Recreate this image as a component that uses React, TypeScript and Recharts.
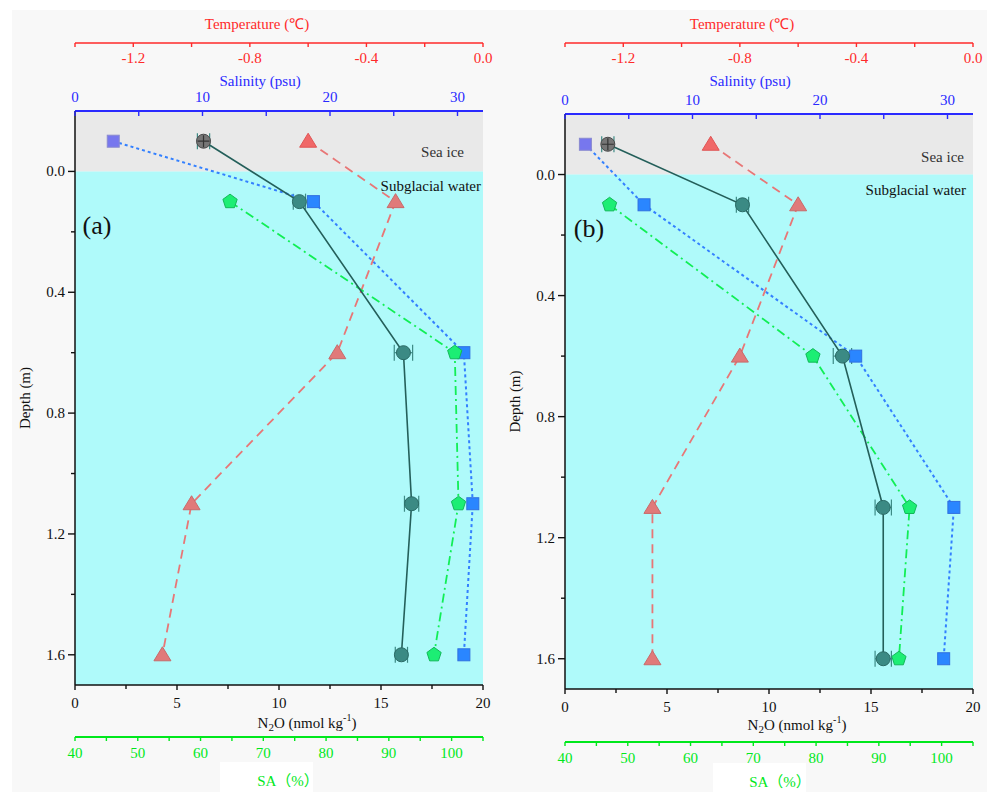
import React from 'react';
import { ScatterChart, Scatter, XAxis, YAxis, ReferenceArea, ErrorBar, Label } from 'recharts';

const FONT = '"Liberation Serif", "Times New Roman", serif';
const CJK_FONT = '"Liberation Serif", "Noto Sans CJK SC", serif';
const RED = '#ff2a2a';
const BLUE = '#2a2aff';
const GREEN = '#00e81c';
const BLACK = '#111111';

// Sampling depths (m)
const depthLevels = [-0.1, 0.1, 0.6, 1.1, 1.6];
const saDepthLevels = [0.1, 0.6, 1.1, 1.6];

// Panel (a)
const n2oA = [6.3, 11.0, 16.1, 16.5, 16.0];
const n2oErrA = [0.3, 0.3, 0.45, 0.35, 0.3];
const salinityA = [3.0, 18.7, 30.5, 31.2, 30.5];
const temperatureA = [-0.6, -0.3, -0.5, -1.0, -1.1];
const saA = [64.7, 100.5, 101.1, 97.2];

// Panel (b)
const n2oB = [2.1, 8.7, 13.6, 15.6, 15.6];
const n2oErrB = [0.3, 0.3, 0.45, 0.4, 0.4];
const salinityB = [1.6, 6.2, 22.8, 30.5, 29.7];
const temperatureB = [-0.9, -0.6, -0.8, -1.1, -1.1];
const saB = [47.1, 79.5, 94.9, 93.2];

// Ticks
const tempTicks = [-1.4, -1.2, -1.0, -0.8, -0.6, -0.4, -0.2, 0];
const tempMajor = [-1.2, -0.8, -0.4, 0];
const salTicks = [0, 5, 10, 15, 20, 25, 30];
const salMajor = [0, 10, 20, 30];
const n2oTicks = [0, 2.5, 5, 7.5, 10, 12.5, 15, 17.5, 20];
const n2oMajor = [0, 5, 10, 15, 20];
const saTicks = [40, 45, 50, 55, 60, 65, 70, 75, 80, 85, 90, 95, 100, 105];
const saMajor = [40, 50, 60, 70, 80, 90, 100];
const depthTicks = [0, 0.2, 0.4, 0.6, 0.8, 1.0, 1.2, 1.4, 1.6];
const depthMajor = [0, 0.4, 0.8, 1.2, 1.6];

const rows = (ds: number[], vs: number[], es?: number[]) =>
  ds.map((d, i) => ({ d, v: vs[i], e: es ? es[i] : 0 }));

const isMaj = (majors: number[], v: number) => majors.some((m) => Math.abs(m - v) < 1e-6);

const hTick = (majors: number[], color: string, dir: number, labelDy: number, fmt: (v: number) => string, majorLen: number, minorLen: number) =>
  (p: any) => {
    const { x, y, payload } = p;
    const v = Number(payload.value);
    const major = isMaj(majors, v);
    return (
      <g>
        <line x1={x} x2={x} y1={y} y2={y + dir * (major ? majorLen : minorLen)} stroke={color} strokeWidth={1.4} />
        {major && (
          <text x={x} y={y + labelDy} textAnchor="middle" dominantBaseline="central" fill={color} fontSize={15} fontFamily={FONT}>
            {fmt(v)}
          </text>
        )}
      </g>
    );
  };

const vTick = (p: any) => {
  const { x, y, payload } = p;
  const v = Number(payload.value);
  const major = isMaj(depthMajor, v);
  return (
    <g>
      <line x1={x} x2={x - (major ? 7 : 4)} y1={y} y2={y} stroke={BLACK} strokeWidth={1.4} />
      {major && (
        <text x={x - 10} y={y} textAnchor="end" dominantBaseline="central" fill={BLACK} fontSize={15} fontFamily={FONT}>
          {v.toFixed(1)}
        </text>
      )}
    </g>
  );
};

const circleShape = (p: any) => {
  const { cx, cy, payload } = p;
  if (cx == null || cy == null) return <g />;
  const ice = payload && payload.d < 0;
  return (
    <g>
      <circle cx={cx} cy={cy} r={7} fill={ice ? '#767676' : '#3b8a84'} stroke={ice ? '#4a4a4a' : '#2a6a65'} strokeWidth={1} />
      {ice && <path d={`M${cx - 6},${cy}H${cx + 6}M${cx},${cy - 6}V${cy + 6}`} stroke="#333" strokeWidth={1.2} />}
    </g>
  );
};

const squareShape = (p: any) => {
  const { cx, cy, payload } = p;
  if (cx == null || cy == null) return <g />;
  const ice = payload && payload.d < 0;
  return (
    <rect x={cx - 6} y={cy - 6} width={12} height={12} fill={ice ? '#7777ee' : '#2a86ff'} stroke={ice ? '#8a8ad0' : '#3070e0'} strokeWidth={1} />
  );
};

const triangleShape = (p: any) => {
  const { cx, cy, payload } = p;
  if (cx == null || cy == null) return <g />;
  const ice = payload && payload.d < 0;
  return (
    <polygon
      points={`${cx},${cy - 8} ${cx - 8.5},${cy + 6} ${cx + 8.5},${cy + 6}`}
      fill={ice ? '#f06868' : '#e07a7a'}
      stroke={ice ? '#e05555' : '#c86a6a'}
      strokeWidth={1}
    />
  );
};

const pentagonShape = (p: any) => {
  const { cx, cy } = p;
  if (cx == null || cy == null) return <g />;
  const r = 7.5;
  const pts = [0, 1, 2, 3, 4]
    .map((k) => {
      const a = -Math.PI / 2 + (k * 2 * Math.PI) / 5;
      return `${cx + r * Math.cos(a)},${cy + r * Math.sin(a)}`;
    })
    .join(' ');
  return <polygon points={pts} fill="#1cee74" stroke="#12b858" strokeWidth={1} />;
};

const titleText = (text: any, color: string, dx: number, dy: number) => (p: any) => {
  const vb = p.viewBox || { x: 0, y: 0, width: 0, height: 0 };
  return (
    <text x={vb.x + dx} y={vb.y + dy} textAnchor="middle" dominantBaseline="central" fill={color} fontSize={15} fontFamily={FONT}>
      {text}
    </text>
  );
};

const n2oTitle = (
  <>
    <tspan>N</tspan>
    <tspan fontSize={11} dy={4}>2</tspan>
    <tspan dy={-4}>O (nmol kg</tspan>
    <tspan fontSize={10} dy={-6}>-1</tspan>
    <tspan dy={6}>)</tspan>
  </>
);

const saTitle = (dx: number, boxDx: number, dy: number) => (p: any) => {
  const vb = p.viewBox || { x: 0, y: 0, width: 0, height: 0 };
  return (
    <g>
      <rect x={vb.x + boxDx} y={vb.y + dy - 19} width={93} height={40} fill="#ffffff" />
      <text x={vb.x + dx} y={vb.y + dy} textAnchor="middle" dominantBaseline="central" fill={GREEN} fontSize={15} fontFamily={CJK_FONT}>
        SA（%）
      </text>
    </g>
  );
};

const depthTitle = (p: any) => {
  const vb = p.viewBox || { x: 0, y: 0, width: 0, height: 0 };
  const cx = 25;
  const cy = vb.y + vb.height / 2;
  return (
    <text x={cx} y={cy} transform={`rotate(-90 ${cx} ${cy})`} textAnchor="middle" dominantBaseline="central" fill={BLACK} fontSize={15} fontFamily={FONT}>
      Depth (m)
    </text>
  );
};

const seaIceLabel = (rdx: number, dy: number) => (p: any) => {
  const vb = p.viewBox || { x: 0, y: 0, width: 0, height: 0 };
  return (
    <text x={vb.x + vb.width - rdx} y={vb.y + dy} textAnchor="end" dominantBaseline="central" fill="#333" fontSize={15} fontFamily={FONT}>
      Sea ice
    </text>
  );
};

const waterLabel = (rdx: number, tag: string, tagDx: number) => (p: any) => {
  const vb = p.viewBox || { x: 0, y: 0, width: 0, height: 0 };
  return (
    <g>
      <text x={vb.x + vb.width - rdx} y={vb.y + 15} textAnchor="end" dominantBaseline="central" fill="#111" fontSize={15} fontFamily={FONT}>
        Subglacial water
      </text>
      <text x={vb.x + tagDx} y={vb.y + 54} textAnchor="middle" dominantBaseline="central" fill="#111" fontSize={26} fontFamily={FONT}>
        {tag}
      </text>
    </g>
  );
};

type PanelCfg = {
  tag: string;
  left: number;
  n2o: number[];
  err: number[];
  sal: number[];
  temp: number[];
  sa: number[];
  salH: number;
  n2oH: number;
  saH: number;
  tempDx: number;
  saDx: number;
  saBoxDx: number;
  saDy: number;
  n2oDy: number;
  iceR: number;
  iceDy: number;
  waterR: number;
  tagDx: number;
};

const panels: PanelCfg[] = [
  { tag: '(a)', left: 0, n2o: n2oA, err: n2oErrA, sal: salinityA, temp: temperatureA, sa: saA, salH: 68, n2oH: 52, saH: 55, tempDx: 182, saDx: 213, saBoxDx: 145, saDy: 44, n2oDy: 38, iceR: 19, iceDy: 41, waterR: 2, tagDx: 22 },
  { tag: '(b)', left: 490, n2o: n2oB, err: n2oErrB, sal: salinityB, temp: temperatureB, sa: saB, salH: 71, n2oH: 53, saH: 50, tempDx: 177, saDx: 215, saBoxDx: 148, saDy: 40, n2oDy: 36, iceR: 9, iceDy: 43, waterR: 7, tagDx: 24 },
];

const Panel = ({ cfg }: { cfg: PanelCfg }) => {
  const n2oData = rows(depthLevels, cfg.n2o, cfg.err);
  const salData = rows(depthLevels, cfg.sal);
  const tempData = rows(depthLevels, cfg.temp);
  const saData = rows(saDepthLevels, cfg.sa);
  return (
    <ScatterChart width={500} height={792} margin={{ top: 8, right: 17, bottom: 0, left: 15 }}>
      <XAxis
        xAxisId="sal"
        orientation="top"
        type="number"
        dataKey="v"
        height={cfg.salH}
        domain={[0, 32]}
        allowDataOverflow
        ticks={salTicks}
        interval={0}
        tickSize={0}
        tickMargin={0}
        tickLine={false}
        axisLine={{ stroke: BLUE, strokeWidth: 2 }}
        tick={hTick(salMajor, BLUE, 1, -14, (v) => String(v), 5, 5)}
      >
        <Label content={titleText('Salinity (psu)', BLUE, 185, 38)} />
      </XAxis>
      <XAxis
        xAxisId="temp"
        orientation="top"
        type="number"
        dataKey="v"
        height={35}
        domain={[-1.4, 0]}
        allowDataOverflow
        ticks={tempTicks}
        interval={0}
        tickSize={0}
        tickMargin={0}
        tickLine={false}
        axisLine={{ stroke: RED, strokeWidth: 1.5 }}
        tick={hTick(tempMajor, RED, 1, 15, (v) => v.toFixed(1), 4, 4)}
      >
        <Label content={titleText('Temperature (℃)', RED, cfg.tempDx, 16)} />
      </XAxis>
      <XAxis
        xAxisId="n2o"
        orientation="bottom"
        type="number"
        dataKey="v"
        height={cfg.n2oH}
        domain={[0, 20]}
        allowDataOverflow
        ticks={n2oTicks}
        interval={0}
        tickSize={0}
        tickMargin={0}
        tickLine={false}
        axisLine={{ stroke: BLACK, strokeWidth: 1.5 }}
        tick={hTick(n2oMajor, BLACK, 1, 18, (v) => String(v), 5, 4)}
      >
        <Label content={titleText(n2oTitle, BLACK, 232, cfg.n2oDy)} />
      </XAxis>
      <XAxis
        xAxisId="sa"
        orientation="bottom"
        type="number"
        dataKey="v"
        height={cfg.saH}
        domain={[40, 105]}
        allowDataOverflow
        ticks={saTicks}
        interval={0}
        tickSize={0}
        tickMargin={0}
        tickLine={false}
        axisLine={{ stroke: GREEN, strokeWidth: 2 }}
        tick={hTick(saMajor, GREEN, 1, 16, (v) => String(v), 4, 4)}
      >
        <Label content={saTitle(cfg.saDx, cfg.saBoxDx, cfg.saDy)} />
      </XAxis>
      <YAxis
        type="number"
        dataKey="d"
        width={60}
        domain={[-0.2, 1.7]}
        allowDataOverflow
        reversed
        ticks={depthTicks}
        interval={0}
        tickSize={0}
        tickMargin={0}
        tickLine={false}
        axisLine={{ stroke: BLACK, strokeWidth: 1.5 }}
        tick={vTick}
      >
        <Label content={depthTitle} />
      </YAxis>
      <ReferenceArea xAxisId="n2o" x1={0} x2={20} y1={-0.2} y2={0} fill="#e9e9e9" fillOpacity={1} stroke="none" label={seaIceLabel(cfg.iceR, cfg.iceDy)} />
      <ReferenceArea xAxisId="n2o" x1={0} x2={20} y1={0} y2={1.7} fill="#affafa" fillOpacity={1} stroke="none" label={waterLabel(cfg.waterR, cfg.tag, cfg.tagDx)} />
      <Scatter
        name="Salinity"
        xAxisId="sal"
        data={salData}
        fill="#2a86ff"
        line={{ stroke: '#3380ff', strokeWidth: 2, strokeDasharray: '3 3' }}
        lineJointType="linear"
        shape={squareShape}
        isAnimationActive={false}
      />
      <Scatter
        name="Temperature"
        xAxisId="temp"
        data={tempData}
        fill="#e07a7a"
        line={{ stroke: '#e87676', strokeWidth: 1.8, strokeDasharray: '9 6' }}
        lineJointType="linear"
        shape={triangleShape}
        isAnimationActive={false}
      />
      <Scatter
        name="SA"
        xAxisId="sa"
        data={saData}
        fill="#1cee74"
        line={{ stroke: '#11ee55', strokeWidth: 1.8, strokeDasharray: '9 4 2 4' }}
        lineJointType="linear"
        shape={pentagonShape}
        isAnimationActive={false}
      />
      <Scatter
        name="N2O"
        xAxisId="n2o"
        data={n2oData}
        fill="#3b8a84"
        line={{ stroke: '#245f5a', strokeWidth: 1.6 }}
        lineJointType="linear"
        shape={circleShape}
        isAnimationActive={false}
      >
        <ErrorBar dataKey="e" direction="x" width={8} stroke="#3d8a85" strokeWidth={1.2} />
      </Scatter>
    </ScatterChart>
  );
};

export default function App() {
  return (
    <div style={{ position: 'absolute', left: 0, top: 0, width: 987, height: 792, background: '#ffffff', overflow: 'hidden' }}>
      <div style={{ position: 'absolute', left: 12, top: 10, width: 975, height: 782, background: '#f8f8f8' }} />
      {panels.map((cfg) => (
        <div key={cfg.tag} style={{ position: 'absolute', left: cfg.left, top: 0, width: 500, height: 792 }}>
          <Panel cfg={cfg} />
        </div>
      ))}
    </div>
  );
}
